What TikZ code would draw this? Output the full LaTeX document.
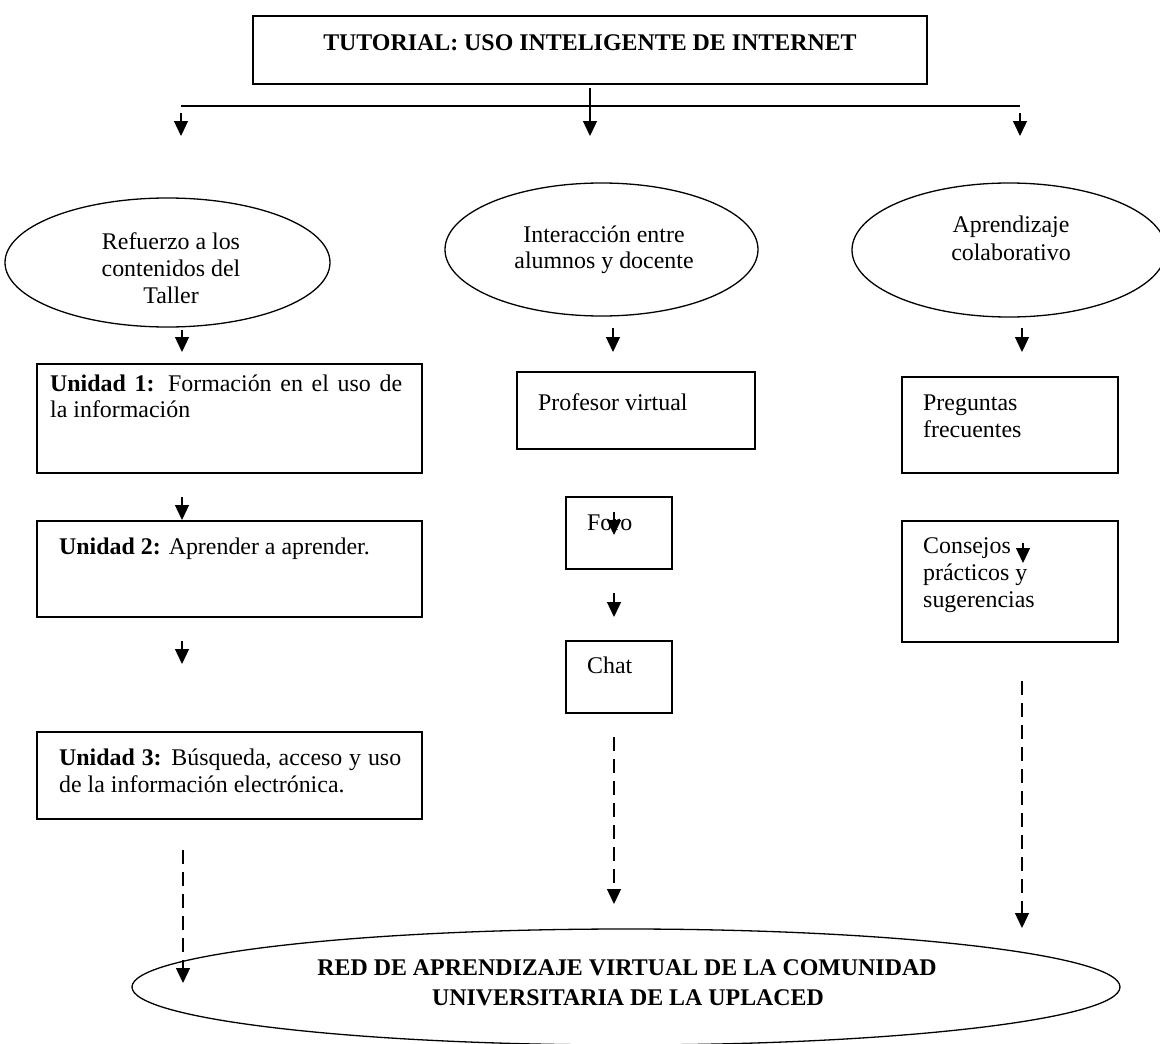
\documentclass[tikz,border=0pt]{standalone}
\usepackage{fontspec}
\setmainfont{Liberation Serif}
\usetikzlibrary{shapes.geometric,arrows.meta}
\tikzset{
  boxnode/.style={draw, line width=1.4pt, rectangle, inner sep=0pt},
  ovalnode/.style={draw, line width=1.3pt, ellipse, inner sep=0pt},
  arr/.style={line width=1.3pt, -{Triangle[width=14pt,length=15pt]}},
  dasharr/.style={arr, dash pattern=on 14pt off 8pt},
  plainline/.style={line width=1.4pt},
  txt/.style={inner sep=0pt, anchor=base west},
  ctxt/.style={inner sep=0pt, anchor=base},
}
\begin{document}
\begin{tikzpicture}[x=1pt,y=-1pt,font=\fontsize{23.9}{27.5}\selectfont]
\useasboundingbox (0,0) rectangle (1160,1044);

% ---------- shapes ----------
\node[boxnode, minimum width=674pt, minimum height=68pt] (title) at (590,50) {};
\node[ovalnode, minimum width=325pt, minimum height=129pt] (e1) at (167.5,262.5) {};
\node[ovalnode, minimum width=313pt, minimum height=133pt] (e2) at (601.5,249.5) {};
\node[ovalnode, minimum width=314pt, minimum height=134pt] (e3) at (1009,250) {};
\node[boxnode, minimum width=385pt, minimum height=109pt] (u1) at (229.5,418.5) {};
\node[boxnode, minimum width=385pt, minimum height=96pt] (u2) at (229.5,569) {};
\node[boxnode, minimum width=385pt, minimum height=87pt] (u3) at (229.5,775.5) {};
\node[boxnode, minimum width=238pt, minimum height=77pt] (prof) at (636,410.5) {};
\node[boxnode, minimum width=106pt, minimum height=72pt] (foro) at (619,533) {};
\node[boxnode, minimum width=106pt, minimum height=72pt] (chat) at (619,677) {};
\node[boxnode, minimum width=216pt, minimum height=96pt] (preg) at (1010,425) {};
\node[boxnode, minimum width=216pt, minimum height=121pt] (cons) at (1010,581.5) {};
\node[ovalnode, minimum width=988pt, minimum height=116pt] (eb) at (626,987) {};

% ---------- texts ----------
\node[ctxt, font=\fontsize{23.9}{27.5}\selectfont\bfseries] (titletxt) at (590,50) {TUTORIAL: USO INTELIGENTE DE INTERNET};

\node[ctxt] (e1a) at (171,249) {Refuerzo a los};
\node[ctxt] (e1b) at (171,276) {contenidos del};
\node[ctxt] (e1c) at (171,303) {Taller};

\node[ctxt] (e2a) at (604,242) {Interacción entre};
\node[ctxt] (e2b) at (604,268) {alumnos y docente};

\node[ctxt] (e3a) at (1011,232) {Aprendizaje};
\node[ctxt] (e3b) at (1011,260) {colaborativo};

\node[txt] (u1a) at (50,391) {\makebox[352pt][s]{\textbf{Unidad 1:} Formación en el uso de}};
\node[txt] (u1b) at (50,417) {la información};
\node[txt] (u2a) at (59,554) {\textbf{Unidad 2:} Aprender a aprender.};
\node[txt] (u3a) at (59,765) {\makebox[342pt][s]{\textbf{Unidad 3:} Búsqueda, acceso y uso}};
\node[txt] (u3b) at (59,792) {de la información electrónica.};

\node[txt] (proft) at (538,410) {Profesor virtual};
\node[txt] (forot) at (587,530) {Foro};
\node[txt] (chatt) at (587,673) {Chat};

\node[txt] (prega) at (923,410) {Preguntas};
\node[txt] (pregb) at (923,437) {frecuentes};
\node[txt] (consa) at (923,553) {Consejos};
\node[txt] (consb) at (923,580) {prácticos y};
\node[txt] (consc) at (923,607) {sugerencias};

\node[ctxt, font=\fontsize{23.9}{27.5}\selectfont\bfseries] (eba) at (627,975) {RED DE APRENDIZAJE VIRTUAL DE LA COMUNIDAD};
\node[ctxt, font=\fontsize{23.9}{27.5}\selectfont\bfseries] (ebb) at (628,1005) {UNIVERSITARIA DE LA UPLACED};

% ---------- connector end points ----------
\coordinate (hl) at (181,106);
\coordinate (hr) at (1020,106);
\coordinate (tcS) at (590,88);   \coordinate (tcE) at (590,136);
\coordinate (tlS) at (181,113);  \coordinate (tlE) at (181,136);
\coordinate (trS) at (1020,113); \coordinate (trE) at (1020,136);
\coordinate (a1S) at (182,330);  \coordinate (a1E) at (182,352);
\coordinate (a2S) at (613,328);  \coordinate (a2E) at (613,352);
\coordinate (a3S) at (1022,328); \coordinate (a3E) at (1022,352);
\coordinate (b1S) at (182,497);  \coordinate (b1E) at (182,520);
\coordinate (b2S) at (182,641);  \coordinate (b2E) at (182,664);
\coordinate (f1S) at (614,512);  \coordinate (f1E) at (614,535);
\coordinate (f2S) at (614,593);  \coordinate (f2E) at (614,617);
\coordinate (c1S) at (1023,543); \coordinate (c1E) at (1023,563);
\coordinate (dmS) at (614,737);  \coordinate (dmE) at (614,904);
\coordinate (drS) at (1022,681); \coordinate (drE) at (1022,928);
\coordinate (dlS) at (183,850);  \coordinate (dlE) at (183,983);

% ---------- connectors ----------
\draw[plainline] (hl) -- (hr);
\draw[arr] (tcS) -- (tcE);
\draw[arr] (tlS) -- (tlE);
\draw[arr] (trS) -- (trE);
\draw[arr] (a1S) -- (a1E);
\draw[arr] (a2S) -- (a2E);
\draw[arr] (a3S) -- (a3E);
\draw[arr] (b1S) -- (b1E);
\draw[arr] (b2S) -- (b2E);
\draw[arr] (f1S) -- (f1E);
\draw[arr] (f2S) -- (f2E);
\draw[arr] (c1S) -- (c1E);
\draw[dasharr] (dmS) -- (dmE);
\draw[dasharr] (drS) -- (drE);
\draw[dasharr] (dlS) -- (dlE);
\end{tikzpicture}
\end{document}
